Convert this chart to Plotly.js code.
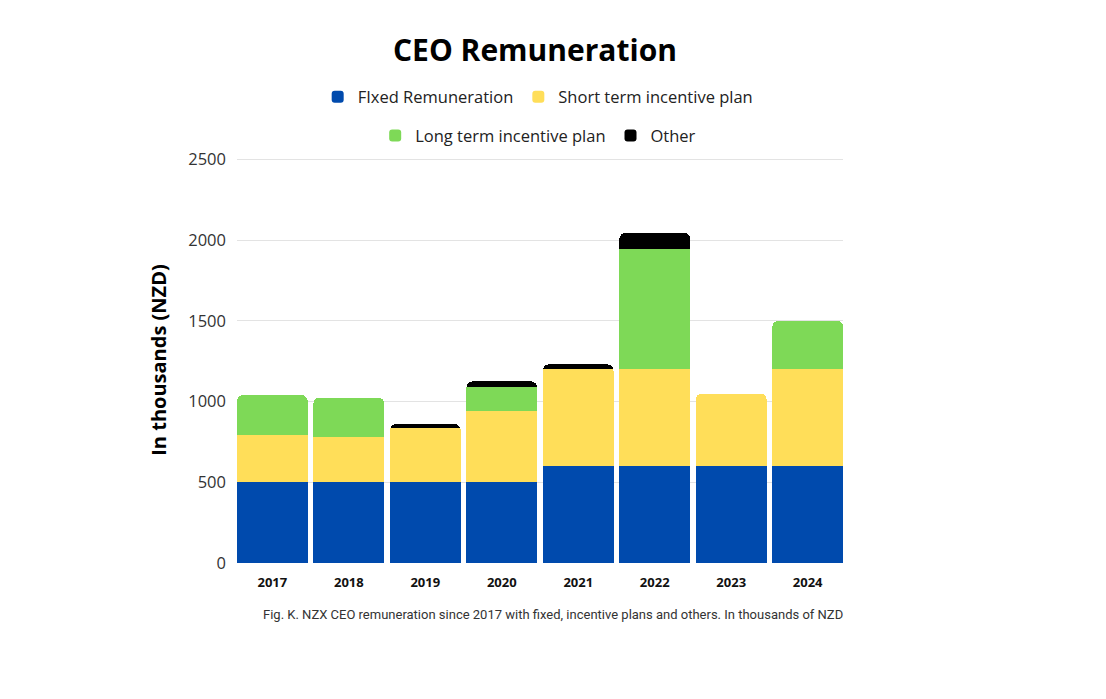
<!DOCTYPE html>
<html>
<head>
<meta charset="utf-8">
<script src="https://cdn.plot.ly/plotly-3.0.1.min.js"></script>
<style>html,body{margin:0;padding:0;background:#fff;}#chart{width:1106px;height:699px;}</style>
</head>
<body>
<div id="chart"></div>
<script>
const years = ['2017','2018','2019','2020','2021','2022','2023','2024'];
const fixedRem = [500, 500, 500, 500, 600, 600, 600, 600];
const shortTerm = [290, 280, 335, 440, 600, 600, 450, 600];
const longTerm = [250, 245, 0, 150, 0, 745, 0, 300];
const other = [0, 0, 25, 35, 30, 100, 0, 0];
const yTicks = [0, 500, 1000, 1500, 2000, 2500];

const font = "'Open Sans', 'Noto Sans', sans-serif";
function tr(name, vals, color, legend) {
  return {type:'bar', name:name, x:years, y:vals, marker:{color:color, line:{width:0}},
          legend:legend, hoverinfo:'y+name'};
}
const data = [
  tr('FIxed Remuneration', fixedRem, '#004AAD', 'legend'),
  tr('Short term incentive plan', shortTerm, '#FFDE59', 'legend'),
  tr('Long term incentive plan', longTerm, '#7ED957', 'legend2'),
  tr('Other', other, '#000000', 'legend2')
];
const legendBase = {orientation:'h', xref:'paper', yref:'paper', xanchor:'center', yanchor:'middle',
  font:{family:font, size:16.5, color:'#222'}, bgcolor:'rgba(0,0,0,0)', traceorder:'normal'};
const layout = {
  width:1106, height:699,
  margin:{l:237, r:263, t:157, b:136},
  paper_bgcolor:'#fff', plot_bgcolor:'#fff',
  barmode:'stack', bargap:0.076, barcornerradius:6,
  title:{text:'CEO Remuneration', x:0.4837, xref:'container', y:0.928, yref:'container', yanchor:'middle', xanchor:'center',
         font:{family:font, size:30, color:'#000', weight:'bold'}},
  showlegend:true,
  legend:Object.assign({}, legendBase, {x:0.497, y:1.148}),
  legend2:Object.assign({}, legendBase, {x:0.497, y:1.052}),
  xaxis:{type:'category', range:[-0.462, 7.462], showgrid:false, zeroline:false, showline:false, ticks:'',
         tickfont:{family:font, size:13, color:'#111', weight:'bold'}, ticklabelstandoff:10, fixedrange:true},
  yaxis:{range:[0,2515], tickvals:yTicks, ticktext:yTicks.map(String), showgrid:true, gridcolor:'#e3e3e3', gridwidth:1,
         zeroline:false, showline:false, ticks:'', ticklabelstandoff:10,
         tickfont:{family:font, size:16.5, color:'#333'},
         title:{text:'In thousands (NZD)', standoff:16, font:{family:font, size:20, color:'#000', weight:'bold'}},
         automargin:true, fixedrange:true},
  annotations:[{text:'Fig. K. NZX CEO remuneration since 2017 with fixed, incentive plans and others. In thousands of NZD',
    xref:'paper', yref:'paper', x:1.003, y:-0.128, xanchor:'right', yanchor:'middle', showarrow:false,
    font:{family:"Roboto, 'Liberation Sans', sans-serif", size:13, color:'#333'}}]
};
Plotly.newPlot('chart', data, layout, {displayModeBar:false, staticPlot:true});
</script>
</body>
</html>
